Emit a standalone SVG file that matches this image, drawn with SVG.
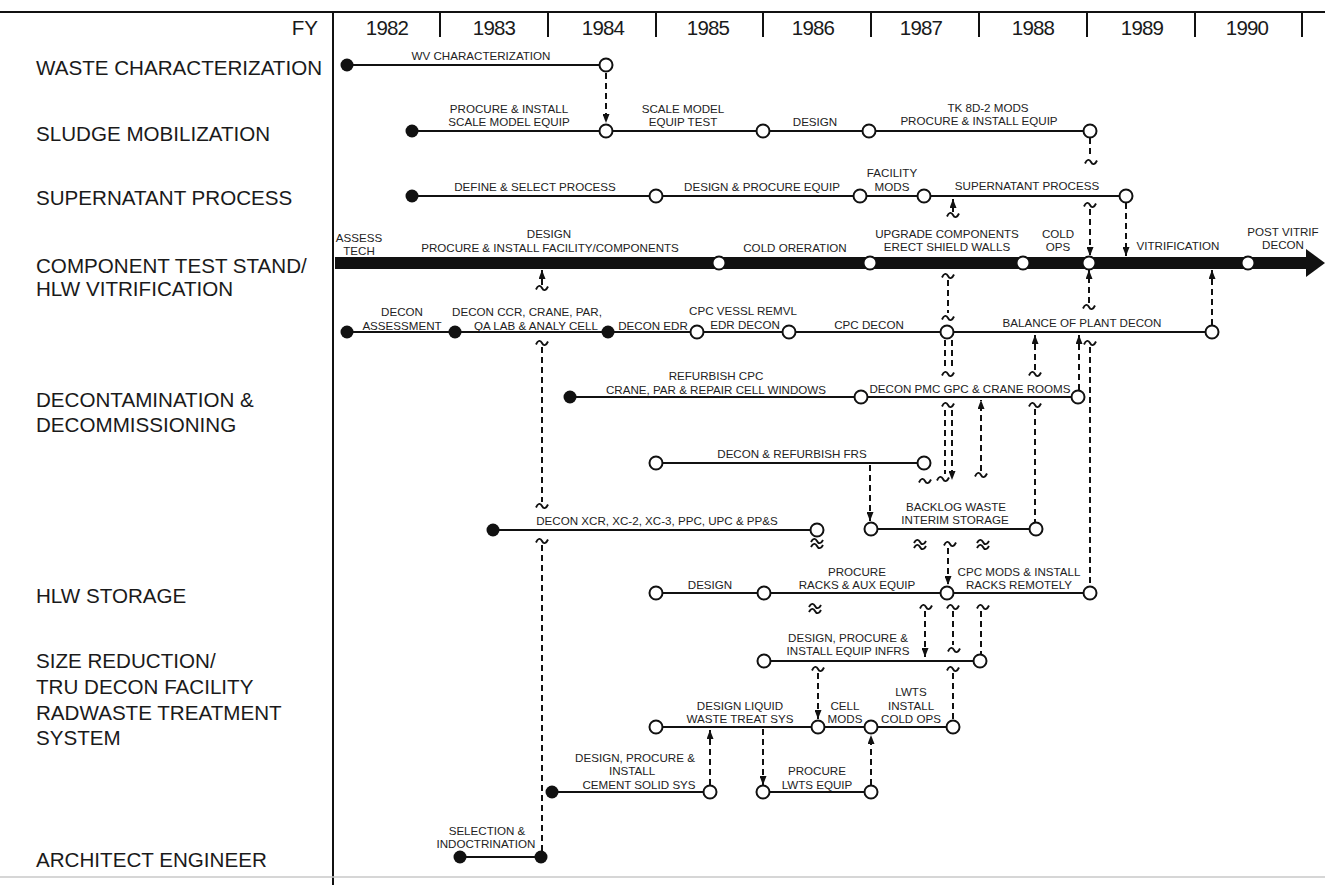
<svg xmlns="http://www.w3.org/2000/svg" xmlns:xlink="http://www.w3.org/1999/xlink" width="1325" height="885" viewBox="0 0 1325 885">
<style>
text{font-family:"Liberation Sans",Arial,Helvetica,sans-serif;fill:#1a1a1a}
.lbl{font-size:20.6px}
.yr{font-size:20.5px;text-anchor:middle;letter-spacing:-0.8px}
.t{font-size:11.6px;text-anchor:middle;fill:#222}
.frame{stroke:#111;stroke-width:2;fill:none}
.act{stroke:#111;stroke-width:2;fill:none}
.dot{fill:#111}
.ms{fill:#fff;stroke:#111;stroke-width:2}
.dep{stroke:#111;stroke-width:2;stroke-dasharray:6 4;fill:none}
.brk{stroke:#111;stroke-width:1.9;fill:none}
</style>
<defs>
<marker id="ah" markerUnits="userSpaceOnUse" markerWidth="9" markerHeight="7" refX="9" refY="3.5" orient="auto">
<path d="M0,0 L9,3.5 L0,7 z" fill="#111"/>
</marker>
<path id="tl" class="brk" d="M-6,1.5 C-4,-3 -1.5,-3 0,0 C1.5,3 4,3 6,-1.5"/>
<path id="tl2" class="brk" d="M-6,-1 C-4,-5 -1.5,-5 0,-2 C1.5,1 4,1 6,-3 M-6,4 C-4,0 -1.5,0 0,3 C1.5,6 4,6 6,2"/>
</defs>

<g id="header">
<line class="frame" x1="0" y1="12" x2="1325" y2="12"/>
<line class="frame" x1="333" y1="12" x2="333" y2="885" stroke-width="2.5"/>
<line x1="0" y1="877" x2="1325" y2="877" stroke="#c8c8c8" stroke-width="1.5"/>
<g class="frame">
<line x1="440" y1="12" x2="440" y2="37"/><line x1="548" y1="12" x2="548" y2="37"/>
<line x1="656" y1="12" x2="656" y2="37"/><line x1="763" y1="12" x2="763" y2="37"/>
<line x1="871" y1="12" x2="871" y2="37"/><line x1="979" y1="12" x2="979" y2="37"/>
<line x1="1087" y1="12" x2="1087" y2="37"/><line x1="1195" y1="12" x2="1195" y2="37"/>
<line x1="1302" y1="12" x2="1302" y2="37"/>
</g>
<text class="lbl" x="318" y="35" text-anchor="end">FY</text>
<text class="yr" x="387" y="35">1982</text>
<text class="yr" x="494" y="35">1983</text>
<text class="yr" x="603" y="35">1984</text>
<text class="yr" x="708" y="35">1985</text>
<text class="yr" x="813" y="35">1986</text>
<text class="yr" x="921" y="35">1987</text>
<text class="yr" x="1033" y="35">1988</text>
<text class="yr" x="1142" y="35">1989</text>
<text class="yr" x="1247" y="35">1990</text>
</g>

<g id="row-labels">
<text class="lbl" x="36" y="75">WASTE CHARACTERIZATION</text>
<text class="lbl" x="36" y="141">SLUDGE MOBILIZATION</text>
<text class="lbl" x="36" y="205">SUPERNATANT PROCESS</text>
<text class="lbl" x="36" y="273">COMPONENT TEST STAND/</text>
<text class="lbl" x="36" y="296">HLW VITRIFICATION</text>
<text class="lbl" x="36" y="407">DECONTAMINATION &amp;</text>
<text class="lbl" x="36" y="432">DECOMMISSIONING</text>
<text class="lbl" x="36" y="603">HLW STORAGE</text>
<text class="lbl" x="36" y="668">SIZE REDUCTION/</text>
<text class="lbl" x="36" y="694">TRU DECON FACILITY</text>
<text class="lbl" x="36" y="720">RADWASTE TREATMENT</text>
<text class="lbl" x="36" y="745">SYSTEM</text>
<text class="lbl" x="36" y="867">ARCHITECT ENGINEER</text>
</g>

<g id="connectors">
<path class="dep" d="M606,73 V123" marker-end="url(#ah)"/>
<path class="dep" d="M1090,138 V158"/>
<use href="#tl" x="1091" y="162"/>
<use href="#tl" x="1090" y="205"/>
<path class="dep" d="M1090,209 V256" marker-end="url(#ah)"/>
<path class="dep" d="M1126,203 V256" marker-end="url(#ah)"/>
<use href="#tl" x="953" y="215"/>
<path class="dep" d="M953,212 V199" marker-end="url(#ah)"/>
<path class="dep" d="M542,285 V270" marker-end="url(#ah)"/>
<use href="#tl" x="542" y="288"/>
<use href="#tl" x="542" y="343"/>
<path class="dep" d="M542,347 V502"/>
<use href="#tl" x="542" y="506"/>
<use href="#tl" x="542" y="541"/>
<path class="dep" d="M542,545 V851"/>
<use href="#tl" x="948" y="276"/>
<path class="dep" d="M948,280 V313"/>
<use href="#tl" x="948" y="318"/>
<path class="dep" d="M945,340 V369 M952,340 V369"/>
<use href="#tl" x="948" y="374"/>
<use href="#tl" x="948" y="405"/>
<path class="dep" d="M945,410 V474"/>
<path class="dep" d="M952,410 V480" marker-end="url(#ah)"/>
<use href="#tl" x="943" y="479"/>
<use href="#tl" x="950" y="544"/>
<path class="dep" d="M948,548 V585" marker-end="url(#ah)"/>
<path class="dep" d="M981,471 V400" marker-end="url(#ah)"/>
<use href="#tl" x="981" y="475"/>
<path class="dep" d="M1035,370 V335" marker-end="url(#ah)"/>
<use href="#tl" x="1035" y="374"/>
<use href="#tl" x="1035" y="405"/>
<path class="dep" d="M1035,409 V522"/>
<path class="dep" d="M1079,390 V335" marker-end="url(#ah)"/>
<use href="#tl" x="1090" y="343"/>
<path class="dep" d="M1090,347 V586"/>
<use href="#tl" x="1089" y="307"/>
<path class="dep" d="M1089,303 V270" marker-end="url(#ah)"/>
<path class="dep" d="M1212,325 V270" marker-end="url(#ah)"/>
<path class="dep" d="M870,465 V521" marker-end="url(#ah)"/>
<use href="#tl" x="925" y="481"/>
<use href="#tl2" x="817" y="543"/>
<use href="#tl2" x="920" y="544"/>
<use href="#tl2" x="983" y="544"/>
<use href="#tl2" x="815" y="608"/>
<use href="#tl" x="926" y="607"/>
<path class="dep" d="M925,611 V657" marker-end="url(#ah)"/>
<use href="#tl" x="953" y="607"/>
<path class="dep" d="M953,611 V645"/>
<use href="#tl" x="954" y="650"/>
<use href="#tl" x="983" y="607"/>
<path class="dep" d="M981,611 V654"/>
<use href="#tl" x="818" y="669"/>
<path class="dep" d="M818,673 V719" marker-end="url(#ah)"/>
<use href="#tl" x="953" y="669"/>
<path class="dep" d="M953,673 V720"/>
<path class="dep" d="M763,729 V785" marker-end="url(#ah)"/>
<path class="dep" d="M710,785 V730" marker-end="url(#ah)"/>
<path class="dep" d="M871,785 V735" marker-end="url(#ah)"/>
</g>

<g id="waste-characterization">
<line class="act" x1="347" y1="65" x2="606" y2="65"/>
<circle class="dot" cx="347" cy="65" r="6.5"/>
<circle class="ms" cx="606" cy="65" r="6.5"/>
<text class="t" x="481" y="60">WV CHARACTERIZATION</text>
</g>

<g id="sludge-mobilization">
<line class="act" x1="412" y1="131" x2="1090" y2="131"/>
<circle class="dot" cx="412" cy="131" r="6.5"/>
<circle class="ms" cx="606" cy="131" r="6.5"/>
<circle class="ms" cx="763" cy="131" r="6.5"/>
<circle class="ms" cx="869" cy="131" r="6.5"/>
<circle class="ms" cx="1090" cy="131" r="6.5"/>
<text class="t" x="509" y="113">PROCURE &amp; INSTALL</text>
<text class="t" x="509" y="126">SCALE MODEL EQUIP</text>
<text class="t" x="683" y="113">SCALE MODEL</text>
<text class="t" x="683" y="126">EQUIP TEST</text>
<text class="t" x="815" y="126">DESIGN</text>
<text class="t" x="988" y="112">TK 8D-2 MODS</text>
<text class="t" x="979" y="125">PROCURE &amp; INSTALL EQUIP</text>
</g>

<g id="supernatant-process">
<line class="act" x1="412" y1="196" x2="1126" y2="196"/>
<circle class="dot" cx="412" cy="196" r="6.5"/>
<circle class="ms" cx="656" cy="196" r="6.5"/>
<circle class="ms" cx="860" cy="196" r="6.5"/>
<circle class="ms" cx="924" cy="196" r="6.5"/>
<circle class="ms" cx="1126" cy="196" r="6.5"/>
<text class="t" x="535" y="191">DEFINE &amp; SELECT PROCESS</text>
<text class="t" x="762" y="191">DESIGN &amp; PROCURE EQUIP</text>
<text class="t" x="892" y="177">FACILITY</text>
<text class="t" x="892" y="191">MODS</text>
<text class="t" x="1027" y="190">SUPERNATANT PROCESS</text>
</g>

<g id="component-test-stand-vitrification">
<rect x="335" y="257" width="973" height="12" fill="#111"/>
<polygon points="1306,249 1325,263 1306,277" fill="#111"/>
<circle class="ms" cx="719" cy="263" r="6.5"/>
<circle class="ms" cx="870" cy="263" r="6.5"/>
<circle class="ms" cx="1023" cy="263" r="6.5"/>
<circle class="ms" cx="1089" cy="263" r="6.5"/>
<circle class="ms" cx="1248" cy="263" r="6.5"/>
<text class="t" x="359" y="242">ASSESS</text>
<text class="t" x="359" y="255">TECH</text>
<text class="t" x="549" y="238">DESIGN</text>
<text class="t" x="550" y="252">PROCURE &amp; INSTALL FACILITY/COMPONENTS</text>
<text class="t" x="795" y="252">COLD ORERATION</text>
<text class="t" x="947" y="238">UPGRADE COMPONENTS</text>
<text class="t" x="947" y="251">ERECT SHIELD WALLS</text>
<text class="t" x="1058" y="238">COLD</text>
<text class="t" x="1058" y="251">OPS</text>
<text class="t" x="1178" y="250">VITRIFICATION</text>
<text class="t" x="1283" y="236">POST VITRIF</text>
<text class="t" x="1283" y="249">DECON</text>
</g>

<g id="decon-main">
<line class="act" x1="347" y1="332" x2="1212" y2="332"/>
<circle class="dot" cx="347" cy="332" r="6.5"/>
<circle class="dot" cx="455" cy="332" r="6.5"/>
<circle class="dot" cx="608" cy="332" r="6.5"/>
<circle class="ms" cx="697" cy="332" r="6.5"/>
<circle class="ms" cx="789" cy="332" r="6.5"/>
<circle class="ms" cx="947" cy="332" r="6.5"/>
<circle class="ms" cx="1212" cy="332" r="6.5"/>
<text class="t" x="402" y="316">DECON</text>
<text class="t" x="402" y="330">ASSESSMENT</text>
<text class="t" x="527" y="316">DECON CCR, CRANE, PAR,</text>
<text class="t" x="536" y="330">QA LAB &amp; ANALY CELL</text>
<text class="t" x="653" y="330">DECON EDR</text>
<text class="t" x="743" y="315">CPC VESSL REMVL</text>
<text class="t" x="745" y="329">EDR DECON</text>
<text class="t" x="869" y="329">CPC DECON</text>
<text class="t" x="1082" y="327">BALANCE OF PLANT DECON</text>
</g>

<g id="decon-refurbish-cpc">
<line class="act" x1="570" y1="397" x2="1078" y2="397"/>
<circle class="dot" cx="570" cy="397" r="6.5"/>
<circle class="ms" cx="861" cy="397" r="6.5"/>
<circle class="ms" cx="1078" cy="397" r="6.5"/>
<text class="t" x="716" y="380">REFURBISH CPC</text>
<text class="t" x="716" y="394">CRANE, PAR &amp; REPAIR CELL WINDOWS</text>
<text class="t" x="970" y="393">DECON PMC GPC &amp; CRANE ROOMS</text>
</g>

<g id="decon-frs">
<line class="act" x1="656" y1="463" x2="924" y2="463"/>
<circle class="ms" cx="656" cy="463" r="6.5"/>
<circle class="ms" cx="924" cy="463" r="6.5"/>
<text class="t" x="792" y="458">DECON &amp; REFURBISH FRS</text>
</g>

<g id="decon-xcr">
<line class="act" x1="493" y1="530" x2="817" y2="530"/>
<circle class="dot" cx="493" cy="530" r="6.5"/>
<circle class="ms" cx="817" cy="530" r="6.5"/>
<text class="t" x="657" y="525">DECON XCR, XC-2, XC-3, PPC, UPC &amp; PP&amp;S</text>
</g>

<g id="backlog-waste">
<line class="act" x1="871" y1="529" x2="1036" y2="529"/>
<circle class="ms" cx="871" cy="529" r="6.5"/>
<circle class="ms" cx="1036" cy="529" r="6.5"/>
<text class="t" x="956" y="511">BACKLOG WASTE</text>
<text class="t" x="955" y="524">INTERIM STORAGE</text>
</g>

<g id="hlw-storage">
<line class="act" x1="656" y1="593" x2="1090" y2="593"/>
<circle class="ms" cx="656" cy="593" r="6.5"/>
<circle class="ms" cx="764" cy="593" r="6.5"/>
<circle class="ms" cx="947" cy="593" r="6.5"/>
<circle class="ms" cx="1090" cy="593" r="6.5"/>
<text class="t" x="710" y="589">DESIGN</text>
<text class="t" x="857" y="576">PROCURE</text>
<text class="t" x="857" y="589">RACKS &amp; AUX EQUIP</text>
<text class="t" x="1019" y="576">CPC MODS &amp; INSTALL</text>
<text class="t" x="1019" y="589">RACKS REMOTELY</text>
</g>

<g id="size-reduction">
<line class="act" x1="764" y1="661" x2="980" y2="661"/>
<circle class="ms" cx="764" cy="661" r="6.5"/>
<circle class="ms" cx="980" cy="661" r="6.5"/>
<text class="t" x="848" y="642">DESIGN, PROCURE &amp;</text>
<text class="t" x="848" y="655">INSTALL EQUIP INFRS</text>
</g>

<g id="radwaste-liquid">
<line class="act" x1="656" y1="727" x2="953" y2="727"/>
<circle class="ms" cx="656" cy="727" r="6.5"/>
<circle class="ms" cx="818" cy="727" r="6.5"/>
<circle class="ms" cx="871" cy="727" r="6.5"/>
<circle class="ms" cx="953" cy="727" r="6.5"/>
<text class="t" x="740" y="710">DESIGN LIQUID</text>
<text class="t" x="740" y="723">WASTE TREAT SYS</text>
<text class="t" x="845" y="710">CELL</text>
<text class="t" x="845" y="723">MODS</text>
<text class="t" x="911" y="696">LWTS</text>
<text class="t" x="911" y="710">INSTALL</text>
<text class="t" x="911" y="723">COLD OPS</text>
</g>

<g id="radwaste-cement">
<line class="act" x1="552" y1="792" x2="710" y2="792"/>
<circle class="dot" cx="552" cy="792" r="6.5"/>
<circle class="ms" cx="710" cy="792" r="6.5"/>
<text class="t" x="635" y="762">DESIGN, PROCURE &amp;</text>
<text class="t" x="632" y="775">INSTALL</text>
<text class="t" x="639" y="789">CEMENT SOLID SYS</text>
</g>

<g id="radwaste-lwts-equip">
<line class="act" x1="763" y1="792" x2="871" y2="792"/>
<circle class="ms" cx="763" cy="792" r="6.5"/>
<circle class="ms" cx="871" cy="792" r="6.5"/>
<text class="t" x="817" y="775">PROCURE</text>
<text class="t" x="817" y="789">LWTS EQUIP</text>
</g>

<g id="architect-engineer">
<line class="act" x1="460" y1="857" x2="541" y2="857"/>
<circle class="dot" cx="460" cy="857" r="6.5"/>
<circle class="dot" cx="541" cy="857" r="6.5"/>
<text class="t" x="487" y="835">SELECTION &amp;</text>
<text class="t" x="486" y="848">INDOCTRINATION</text>
</g>
</svg>
